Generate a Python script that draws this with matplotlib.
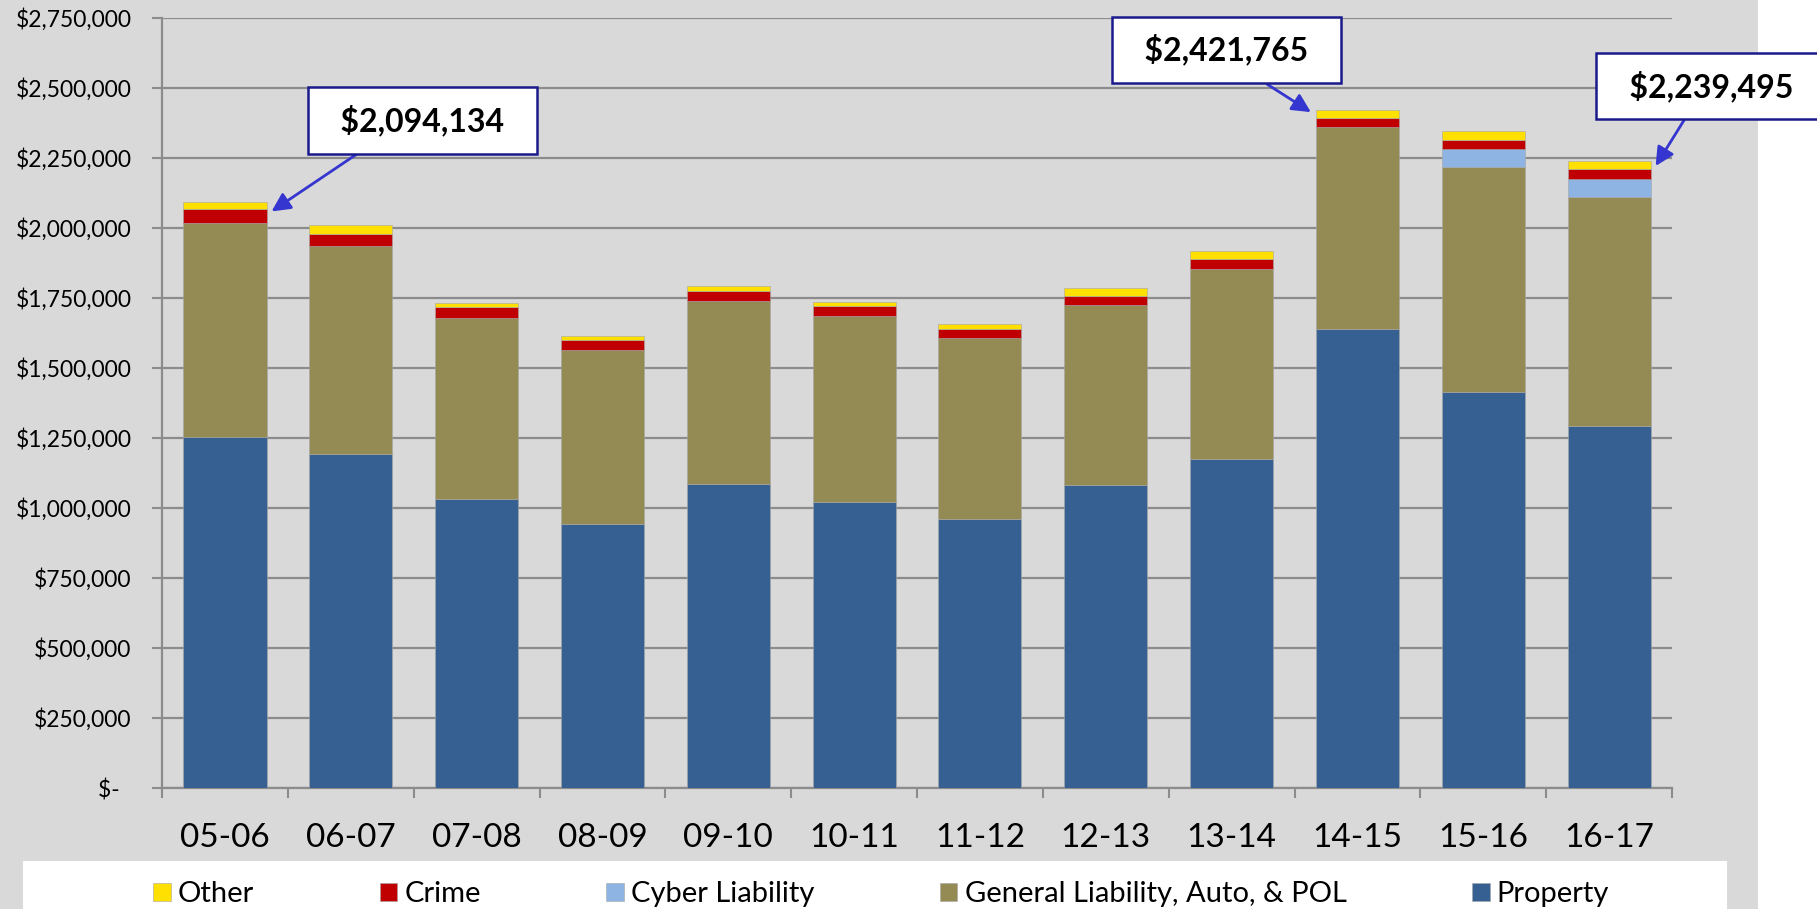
import matplotlib.pyplot as plt
import matplotlib.patches as patches
import numpy as np

plt.rcParams['font.family'] = ['Lato', 'DejaVu Sans']

years = ['05-06', '06-07', '07-08', '08-09', '09-10', '10-11',
         '11-12', '12-13', '13-14', '14-15', '15-16', '16-17']
property_vals = [1253600, 1191700, 1033300, 941600, 1084500, 1022600,
                 960700, 1082100, 1175000, 1639300, 1415400, 1294000]
gl_vals = [765300, 744000, 644100, 622700, 654800, 664300,
           647600, 642900, 679800, 720200, 801300, 817800]
cyber_vals = [0, 0, 0, 0, 0, 0, 0, 0, 0, 0, 64300, 63200]
crime_vals = [48700, 42900, 41600, 35700, 35700, 35700,
              32200, 33300, 34500, 34500, 34500, 34500]
other_vals = [26534, 32100, 13100, 15500, 19000, 13100,
              15500, 27400, 28600, 27765, 32100, 29995]

y_ticks = [0, 250000, 500000, 750000, 1000000, 1250000, 1500000,
           1750000, 2000000, 2250000, 2500000, 2750000]

# callouts: bar index, box position (data coords), arrow side
callout_idx = [0, 9, 11]
callout_pos = [(1.57, 2385000), (7.96, 2636000), (11.81, 2507000)]
callout_relpos = [(0.3, 0.0), (0.56, 0.0), (0.42, 0.0)]
callout_side = [1, -1, 1]
callout_drop = [35000, 8000, 18000]

series = [
    ('Property', property_vals, '#376092'),
    ('General Liability, Auto, & POL', gl_vals, '#948A54'),
    ('Cyber Liability', cyber_vals, '#8EB4E3'),
    ('Crime', crime_vals, '#C00000'),
    ('Other', other_vals, '#FFE000'),
]

bg = '#D9D9D9'
grid_c = '#8C8C8C'
bar_w = 0.66

fig = plt.figure(figsize=(18.17, 9.09), dpi=100, facecolor='white')
fig.patches.append(patches.Rectangle((0, 0), 0.9675, 1, transform=fig.transFigure,
                                     facecolor=bg, edgecolor='none', zorder=-10))
fig.patches.append(patches.Rectangle((0.0127, 0), 0.9378, 0.0528, transform=fig.transFigure,
                                     facecolor='white', edgecolor='none', zorder=-5))

ax = fig.add_axes([0.0892, 0.1331, 0.831, 0.8471])
ax.set_facecolor(bg)

x = np.arange(len(years))
bottom = np.zeros(len(years))
handles = {}
for name, vals, col in series:
    vals = np.array(vals, dtype=float)
    b = ax.bar(x, vals, bar_w, bottom=bottom, color=col, edgecolor='#A6A6A6',
               linewidth=0.4, zorder=3, label=name)
    handles[name] = b
    bottom = bottom + vals
totals = bottom

ax.set_xlim(-0.5, len(years) - 0.5)
ax.set_ylim(0, 2750000)
ax.set_yticks(y_ticks)
ax.set_yticklabels(['$-  '] + [f'${v:,.0f}' for v in y_ticks[1:]], fontsize=16.5)
ax.yaxis.grid(True, color=grid_c, linewidth=1.6, zorder=0)
ax.tick_params(axis='y', length=7, width=1.5, color=grid_c, pad=15)

ax.set_xticks(np.arange(-0.5, len(years), 1.0))
ax.set_xticklabels([])
ax.tick_params(axis='x', which='major', length=7, width=1.5, color=grid_c)
ax.set_xticks(x, minor=True)
ax.set_xticklabels(years, minor=True, fontsize=24)
ax.tick_params(axis='x', which='minor', length=0, pad=25)

for s in ['top', 'right']:
    ax.spines[s].set_visible(False)
for s in ['left', 'bottom']:
    ax.spines[s].set_color(grid_c)
    ax.spines[s].set_linewidth(1.6)

for i, pos, rp, side, drop in zip(callout_idx, callout_pos, callout_relpos,
                                  callout_side, callout_drop):
    tip = (i + side * (bar_w / 2 + 0.04), totals[i] - drop)
    ax.annotate(f'  ${totals[i]:,.0f}  ', xy=tip, xytext=pos, textcoords='data',
                ha='center', va='center', fontsize=23, fontweight='bold',
                annotation_clip=False, zorder=6,
                bbox=dict(boxstyle='square,pad=0.55', fc='white', ec='#1A1A8C', lw=1.8),
                arrowprops=dict(arrowstyle='-|>', color='#3535CF', lw=2,
                                mutation_scale=28, shrinkA=0, shrinkB=0, relpos=rp))

order = ['Other', 'Crime', 'Cyber Liability', 'General Liability, Auto, & POL', 'Property']
fig.legend([handles[n] for n in order], order, loc='center', bbox_to_anchor=(0.485, 0.016),
           ncol=5, frameon=False, fontsize=21, handlelength=0.6, handleheight=0.6,
           handletextpad=0.25, columnspacing=4.3)

fig.savefig('out.png', dpi=100, facecolor=fig.get_facecolor())
